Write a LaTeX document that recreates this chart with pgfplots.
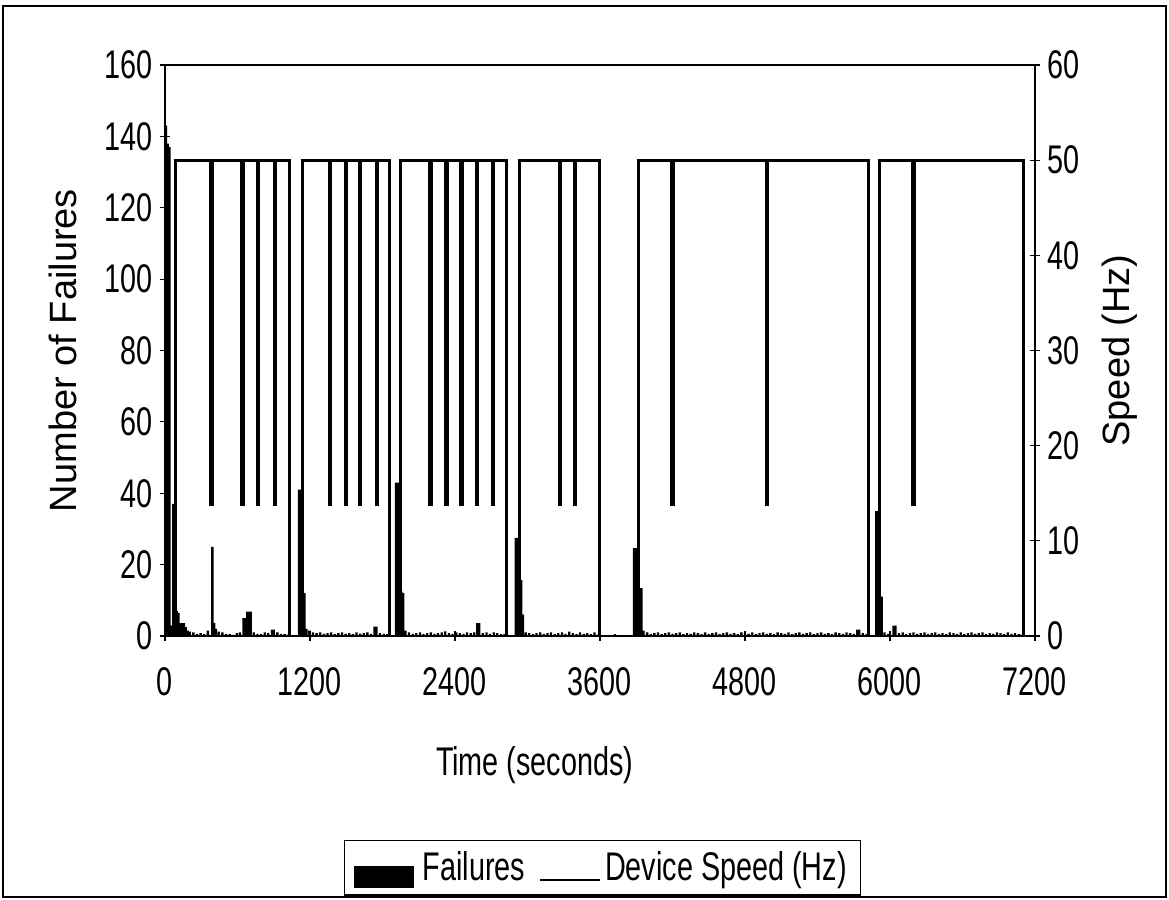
\documentclass[border=0pt]{standalone}
\usepackage{pgfplots}
\pgfplotsset{compat=1.18}
\usepackage{fontspec}
\setmainfont{Liberation Sans}
\newfontfamily\cond[FakeStretch=0.72]{Liberation Sans}

\begin{document}
\begin{tikzpicture}
\useasboundingbox (-82.5pt,-132pt) rectangle (502pt,318pt);
\draw[line width=1pt] (-81pt,-130.5pt) rectangle (500.5pt,315pt);

\begin{axis}[
  scale only axis, width=435pt, height=285.5pt,
  xmin=0, xmax=7200, ymin=0, ymax=160,
  xtick={0,1200,2400,3600,4800,6000,7200},
  xticklabels={0,1200,2400,3600,4800,6000,7200},
  ytick={0,20,40,60,80,100,120,140,160},
  ytick pos=left, xtick pos=bottom,
  tick align=center, major tick length=5pt,
  tick style={black, line width=0.6pt},
  axis line style={line width=0.8pt},
  /pgf/number format/assume math mode=true,
  ticklabel style={font=\cond\fontsize{20}{24}\selectfont},
  xticklabel style={yshift=-10pt},
  xlabel={Time (seconds)},
  xlabel style={font=\cond\fontsize{20}{24}\selectfont, at={(axis description cs:0.425,-0.226)}, anchor=center},
  ylabel={Number of Failures},
  ylabel style={font=\fontsize{19}{23}\selectfont, at={(axis description cs:-0.117,0.5)}, anchor=center},
]
\addplot[ybar, bar width=19, fill=black, draw=none] table {
t v
7.5 143
22.5 138
37.5 137
52.5 3
67.5 37
82.5 37
97.5 7
112.5 6.5
127.5 3.6
142.5 3.6
157.5 3.6
172.5 2.5
187.5 1.5
205 1.2
235 1
265 0.6
295 0.8
325 0.5
355 1.5
392 25
407 3.6
422 2
445 1.2
475 1
505 0.6
535 0.5
565 0.3
595 0.8
620 1
650 5
665 5
680 6.8
695 6.8
710 6.8
735 1
765 0.6
795 0.5
825 1
855 0.8
885 1.8
900 1.8
930 1
960 0.6
990 0.5
1020 0.4
1110 41
1125 41
1140 28
1155 12
1170 2
1195 1.5
1225 1
1255 0.8
1285 1
1315 0.6
1345 0.8
1375 1
1405 0.5
1435 0.8
1465 1
1495 0.6
1525 0.8
1555 0.5
1585 1
1615 0.7
1645 0.8
1675 1
1705 0.6
1735 2.6
1750 2.6
1780 0.8
1810 0.6
1840 0.5
1912.5 43
1927.5 43
1942.5 42
1957.5 12.4
1972.5 12
1990 1.5
2020 1
2050 0.6
2080 0.8
2110 1
2140 0.5
2170 0.8
2200 1
2230 0.6
2260 0.8
2290 1
2320 1.3
2350 0.8
2380 0.5
2410 1
2440 0.8
2470 0.6
2500 1
2530 0.8
2560 1
2585 3.6
2600 3.6
2630 0.8
2660 1
2690 0.6
2720 1
2750 0.8
2780 0.5
2810 0.5
2902.5 27.5
2917.5 27.5
2932.5 27
2947.5 15.7
2962.5 6
2985 1
3015 0.8
3045 0.5
3075 0.8
3105 1
3135 0.6
3165 0.8
3195 1
3225 0.5
3255 0.8
3285 1
3315 0.6
3345 1.2
3375 0.8
3405 0.5
3435 1
3465 0.6
3495 0.8
3525 0.5
3555 1
3585 0.4
3725 0.5
3882.5 24.6
3897.5 24.6
3912.5 24.6
3927.5 13.4
3942.5 13.4
3960 1.5
3990 1
4020 0.6
4050 0.8
4080 1
4110 0.5
4140 0.8
4170 1
4200 0.6
4230 0.8
4260 1
4290 0.5
4320 0.8
4350 0.6
4380 1
4410 0.8
4440 0.5
4470 1
4500 0.6
4530 0.8
4560 1
4590 0.5
4620 0.8
4650 1
4680 0.6
4710 0.8
4740 0.5
4770 1
4800 0.8
4830 0.6
4860 1
4890 0.5
4920 0.8
4950 1
4980 0.6
5010 0.8
5040 0.5
5070 1
5100 0.8
5130 0.6
5160 1
5190 0.5
5220 0.8
5250 1
5280 0.6
5310 0.8
5340 1
5370 0.5
5400 0.8
5430 1
5460 0.6
5490 0.8
5520 0.5
5550 1
5580 0.8
5610 0.6
5640 1
5670 0.8
5700 0.6
5730 1.8
5745 1.8
5775 0.8
5805 0.5
5887.5 35
5902.5 35
5917.5 11
5932.5 11
5955 1
5985 0.6
6030 2.9
6045 2.9
6075 0.8
6105 1
6135 0.5
6165 0.8
6195 1
6225 0.6
6255 0.8
6285 1
6315 0.5
6345 0.8
6375 1
6405 0.6
6435 0.8
6465 0.5
6495 1
6525 0.8
6555 0.6
6585 1
6615 0.5
6645 0.8
6675 1
6705 0.6
6735 0.8
6765 1
6795 0.5
6825 0.8
6855 0.6
6885 1
6915 0.8
6945 0.5
6975 1
7005 0.6
7035 0.8
7065 0.5
7090 0.4
};
\end{axis}

\begin{axis}[
  scale only axis, width=435pt, height=285.5pt,
  xmin=0, xmax=7200, ymin=0, ymax=60,
  axis x line=none, axis y line*=right,
  ytick={0,10,20,30,40,50,60},
  tick align=center, major tick length=5pt,
  tick style={black, line width=0.6pt},
  axis line style={line width=1pt},
  /pgf/number format/assume math mode=true,
  ticklabel style={font=\cond\fontsize{20}{24}\selectfont},
  ylabel={Speed (Hz)},
  ylabel style={font=\fontsize{19}{23}\selectfont, at={(axis description cs:1.097,0.5)}, anchor=center, rotate=0},
  legend columns=2,
  legend style={at={(axis description cs:0.503,-0.357)}, anchor=north,
    draw=black, line width=0.6pt, inner xsep=5pt, inner ysep=3.5pt,
    font=\cond\fontsize{20}{24}\selectfont,
    /tikz/every even column/.append style={column sep=5pt}},
]
\addlegendimage{legend image code/.code={\fill[black] (0pt,-10pt) rectangle (29pt,0.5pt); \path (31.5pt,0pt);}}
\addlegendentry{Failures}
\addplot[black, line width=1.4pt, line join=miter,
  legend image code/.code={\draw[line width=1pt] (0pt,-6.5pt) -- (30pt,-6.5pt);}] coordinates {
(0,0) (86,0) (86,50)
(377,50) (377,13.8) (391,13.8) (391,50)
(633,50) (633,13.8) (647,13.8) (647,50)
(763,50) (763,13.8) (777,13.8) (777,50)
(902,50) (902,13.8) (916,13.8) (916,50)
(1033,50) (1033,0) (1136,0) (1136,50)
(1359,50) (1359,13.8) (1373,13.8) (1373,50)
(1492,50) (1492,13.8) (1506,13.8) (1506,50)
(1608,50) (1608,13.8) (1622,13.8) (1622,50)
(1747,50) (1747,13.8) (1761,13.8) (1761,50)
(1859,50) (1859,0) (1948,0) (1948,50)
(2190,50) (2190,13.8) (2204,13.8) (2204,50)
(2323,50) (2323,13.8) (2337,13.8) (2337,50)
(2448,50) (2448,13.8) (2462,13.8) (2462,50)
(2573,50) (2573,13.8) (2587,13.8) (2587,50)
(2706,50) (2706,13.8) (2720,13.8) (2720,50)
(2829,50) (2829,0) (2937,0) (2937,50)
(3263,50) (3263,13.8) (3277,13.8) (3277,50)
(3388,50) (3388,13.8) (3402,13.8) (3402,50)
(3597,50) (3597,0) (3921,0) (3921,50)
(4192,50) (4192,13.8) (4206,13.8) (4206,50)
(4976,50) (4976,13.8) (4990,13.8) (4990,50)
(5820,50) (5820,0) (5911,0) (5911,50)
(6187,50) (6187,13.8) (6201,13.8) (6201,50)
(7103,50) (7103,0) (7200,0)
};
\addlegendentry{Device Speed (Hz)}
\end{axis}
\end{tikzpicture}
\end{document}
